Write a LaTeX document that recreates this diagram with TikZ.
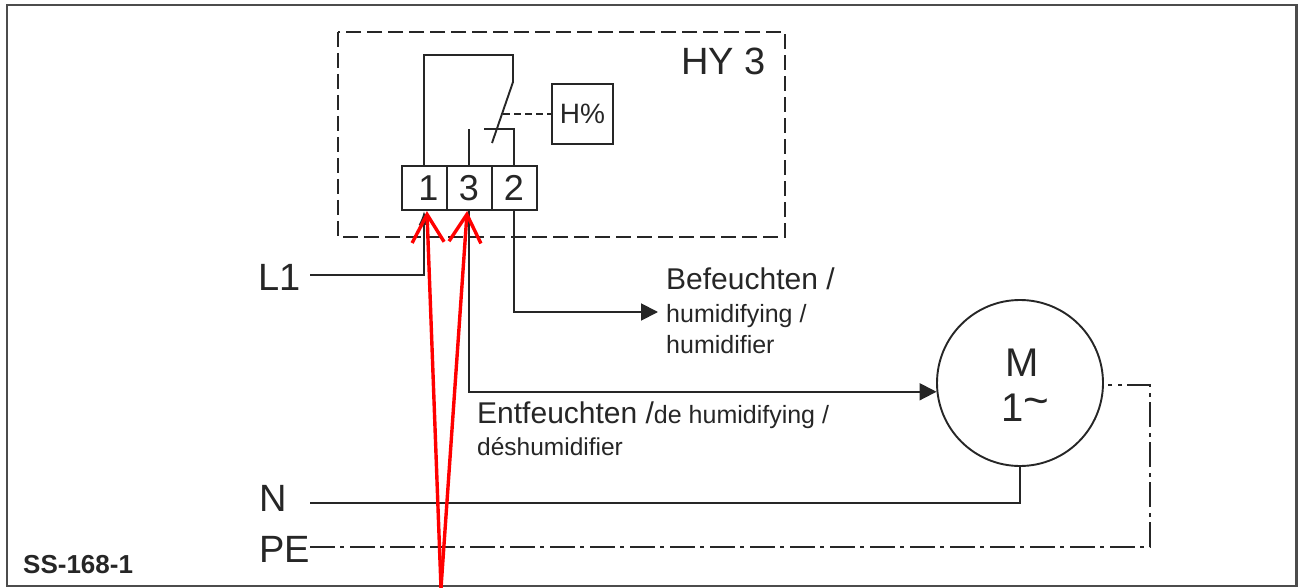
\documentclass[tikz,border=0pt]{standalone}
\usepackage{fontspec}
\setmainfont{Liberation Sans}
\usetikzlibrary{arrows.meta}
\tikzset{
  wire/.style={line width=1.9pt,black!85},
  lab/.style={anchor=base west,inner sep=0pt,font=\fontsize{#1}{#1}\selectfont,black!85},
  termbox/.style={draw,line width=2pt,black!85,minimum width=45pt,minimum height=44pt,inner sep=0pt,font=\fontsize{36}{36}\selectfont},
  redarrow/.style={red,line width=3.4pt,-{Straight Barb[length=28pt,width=32pt,line width=3.4pt]},shorten >=-2pt},
  pedash/.style={line width=1.9pt,black!85,dash pattern=on 25pt off 5pt on 4pt off 6pt}
}
\begin{document}
\begin{tikzpicture}[x=1pt,y=-1pt]
\useasboundingbox (0,0) rectangle (1298,588);
\fill[white] (0,0) rectangle (1298,588);
% Outer frame and dashed housing
\draw[line width=2.4pt,black!70] (7,5) rectangle (1296.5,586);
\draw[line width=2pt,black!85,dash pattern=on 15pt off 6pt] (338,32) rectangle (785,237);
% Terminals
\node[termbox] (term1) at (424,188) {\hspace*{9pt}1};
\node[termbox] (term3) at (469,188) {3};
\node[termbox] (term2) at (514,188) {2};
\node[lab=38] (hy) at (681,75) {HY 3};
% Sensor and relay contact
\node[draw,line width=2pt,black!85,minimum width=61pt,minimum height=60pt,inner sep=0pt,font=\fontsize{28}{28}\selectfont] (sensor) at (582.5,114) {H\%};
\coordinate (contacttop) at (513,82);
\coordinate (contactend) at (492,143);
\coordinate (contactmid) at (503,114);
\coordinate (fixedtwo) at (484,129);
\draw[wire] (term1.north) |- (513,55) -- (contacttop) -- (contactend);
\draw[wire] (term3.north) -- (469,129);
\draw[wire] (term2.north) |- (fixedtwo);
\draw[wire,dashed,dash pattern=on 7pt off 4pt] (contactmid) -- (sensor.west);
% Supply lines
\node[lab=38] (labL) at (258,290) {L1};
\node[lab=38] (labN) at (259,511) {N};
\node[lab=38] (labPE) at (259,562) {PE};
\coordinate (startL) at (310,275);
\coordinate (startN) at (310,503);
\coordinate (startPE) at (310,547);
\coordinate (endPE) at (1108,385);
\draw[wire,-{Latex[length=14pt,width=11pt]}] (startL) -| (term1.south);
% Motor
\node[draw,circle,line width=1.9pt,black!85,minimum size=166pt,inner sep=0pt] (motor) at (1020,383) {};
\node[lab=40] (labM) at (1005,376) {M};
\node[lab=40] (labone) at (1001,421) {1\raisebox{6pt}{\fontsize{44}{44}\selectfont\textasciitilde}};
\draw[wire] (startN) -| (motor.south);
\draw[pedash] (startPE) -| (1150,385) -- (endPE);
% Outputs
\coordinate (outhum) at (658,312);
\node[lab=30] (labout) at (666,289) {Befeuchten /};
\node[lab=25] (labouta) at (666,322) {humidifying /};
\node[lab=25] (laboutb) at (666,353) {humidifier};
\draw[wire,-{Triangle[length=17pt,width=17pt]}] (term2.south) |- (outhum);
\draw[wire,-{Triangle[length=17pt,width=17pt]}] (term3.south) |- (motor.186);
\node[lab=30] (labdeh) at (477,423) {Entfeuchten /\fontsize{25}{25}\selectfont de humidifying /};
\node[lab=24.5] (labdeha) at (477,455) {déshumidifier};
% Drawing number
\node[lab=22,font=\fontsize{26}{26}\selectfont\bfseries] (labno) at (23,573) {SS-168-1};
% Red markings
\coordinate (redfoot) at (441,588);
\draw[redarrow] (redfoot) -- (427,213);
\draw[redarrow] (redfoot) -- (467,213);
\end{tikzpicture}
\end{document}
